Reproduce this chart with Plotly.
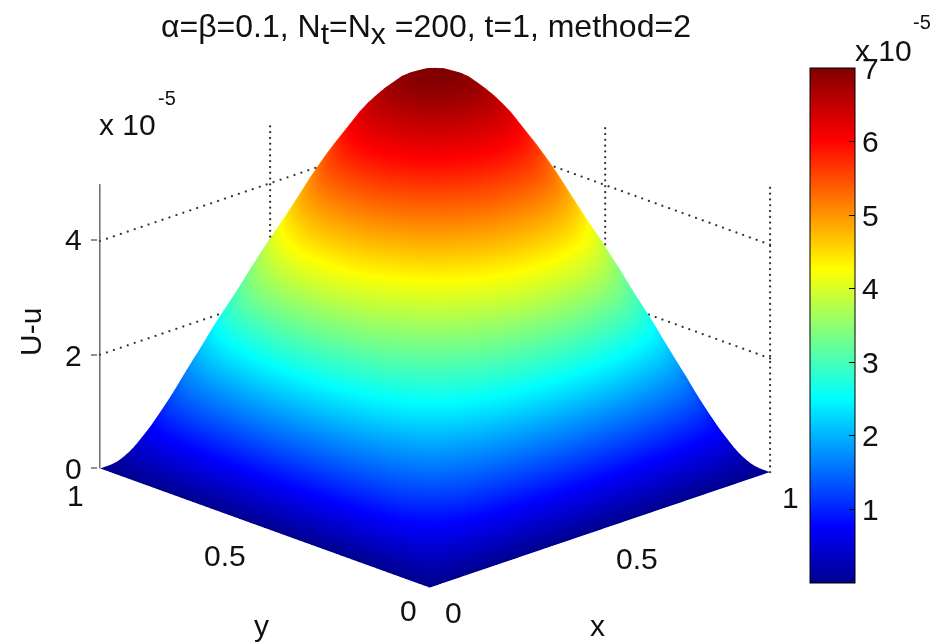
import numpy as np
import plotly.graph_objects as go

W, H = 945, 643
grid_x = [i / 40 for i in range(41)]
grid_y = [i / 40 for i in range(41)]
# cross-section shape read from the silhouette of the surface (relative to the peak)
half_profile = [0, .115, .225, .32, .405, .48, .55, .605, .655, .70, .745, .79, .83, .865, .90, .93, .955, .977, .99, .998, 1]
profile_x = half_profile + half_profile[-2::-1]
profile_y = profile_x
peak = 7.0
U_minus_u = peak * np.outer(profile_y, profile_x)

z_ticks = [2, 4]
z_top = 5
wall_ticks = [0.5]
cbar_ticks = [1, 2, 3, 4, 5, 6, 7]

jet = [[0, "rgb(0,0,143)"], [0.11, "rgb(0,0,255)"], [0.36, "rgb(0,255,255)"],
       [0.61, "rgb(255,255,0)"], [0.86, "rgb(255,0,0)"], [1, "rgb(128,0,0)"]]

FONT = "Liberation Sans"
fig = go.Figure()
fig.add_surface(x=grid_x, y=grid_y, z=U_minus_u, colorscale=jet, cmin=0, cmax=7,
                lighting=dict(ambient=1, diffuse=0, specular=0, fresnel=0, roughness=1),
                hoverinfo="skip",
                colorbar=dict(x=810 / W, xanchor="left", y=(H - 583) / H, yanchor="bottom",
                              len=(583 - 68) / H, lenmode="fraction", thickness=45, thicknessmode="pixels",
                              xpad=0, ypad=0, outlinecolor="black", outlinewidth=1,
                              tickvals=cbar_ticks, ticks="inside", ticklen=6, tickcolor="black",
                              tickfont=dict(family=FONT, size=30, color="#111")))

def dotted(a, b, n):
    xs, ys, zs = [np.linspace(a[i], b[i], n) for i in range(3)]
    fig.add_scatter3d(x=xs, y=ys, z=zs, mode="markers", hoverinfo="skip", showlegend=False,
                      marker=dict(color="#333", size=1.3, line=dict(width=0)))

for z in z_ticks:
    dotted((0, 1, z), (1, 1, z), 50)
    dotted((1, 0, z), (1, 1, z), 50)
for t in wall_ticks:
    dotted((t, 1, 0), (t, 1, z_top), 50)
    dotted((1, t, 0), (1, t, z_top), 50)
dotted((1, 0, 0), (1, 0, z_top), 50)
fig.add_scatter3d(x=[0, 0], y=[1, 1], z=[0, z_top], mode="lines", hoverinfo="skip", showlegend=False,
                  line=dict(color="#222", width=2))

hidden = dict(visible=False, showspikes=False)
theta = np.deg2rad(44.1)
k = 1.6
cz = -0.167
fig.update_layout(
    width=W, height=H, margin=dict(l=0, r=0, t=0, b=0), paper_bgcolor="white",
    showlegend=False,
    scene=dict(
        domain=dict(x=[0, 870 / W], y=[0, 1]),
        xaxis=dict(range=[0, 1], **hidden), yaxis=dict(range=[0, 1], **hidden),
        zaxis=dict(range=[0, 7], **hidden),
        aspectmode="manual", aspectratio=dict(x=1.474, y=1.474, z=1.322),
        camera=dict(projection=dict(type="orthographic"),
                    eye=dict(x=-k * np.sin(theta), y=-k * np.cos(theta), z=k * 0.374 + cz),
                    up=dict(x=0, y=0, z=1), center=dict(x=0, y=0, z=cz)),
    ),
)

def label(text, px, py, size=30, **kw):
    fig.add_annotation(text=text, x=px / W, y=1 - py / H, xref="paper", yref="paper", showarrow=False,
                       xanchor="center", yanchor="middle",
                       font=dict(family=FONT, size=size, color="#111"), **kw)

big = '<span style="font-size:30px">'
label(f"α=β=0.1, N<sub>{big}t</span></sub>=N<sub>{big}x</span></sub> =200, t=1, method=2", 426, 29, size=32)
for t, px, py in [("0", 73, 468), ("2", 73, 355), ("4", 73, 240),
                  ("1", 75, 495), ("0.5", 225, 555), ("0", 408, 610),
                  ("0", 453, 612), ("0.5", 637, 558), ("1", 790, 497)]:
    label(t, px, py)
label("y", 261, 625)
label("x", 597, 625)
label("U-u", 30, 332, textangle=-90)
label("x 10", 127, 124)
label("-5", 167, 98, size=20)
label("x 10", 883, 50)
label("-5", 922, 22, size=20)

shapes = []
for v in cbar_ticks[:-1]:
    py = 583 - (583 - 68) * v / 7
    shapes.append(dict(type="line", xref="paper", yref="paper", x0=810 / W, x1=816 / W,
                       y0=1 - py / H, y1=1 - py / H, line=dict(color="black", width=1)))
for py in [468, 355, 240]:
    shapes.append(dict(type="line", xref="paper", yref="paper", x0=91 / W, x1=97 / W,
                       y0=1 - py / H, y1=1 - py / H, line=dict(color="#222", width=1)))
fig.update_layout(shapes=shapes)

fig.write_html("out.html", config=dict(displayModeBar=False),
               post_script="document.body.style.margin='0';document.body.style.overflow='hidden';")
